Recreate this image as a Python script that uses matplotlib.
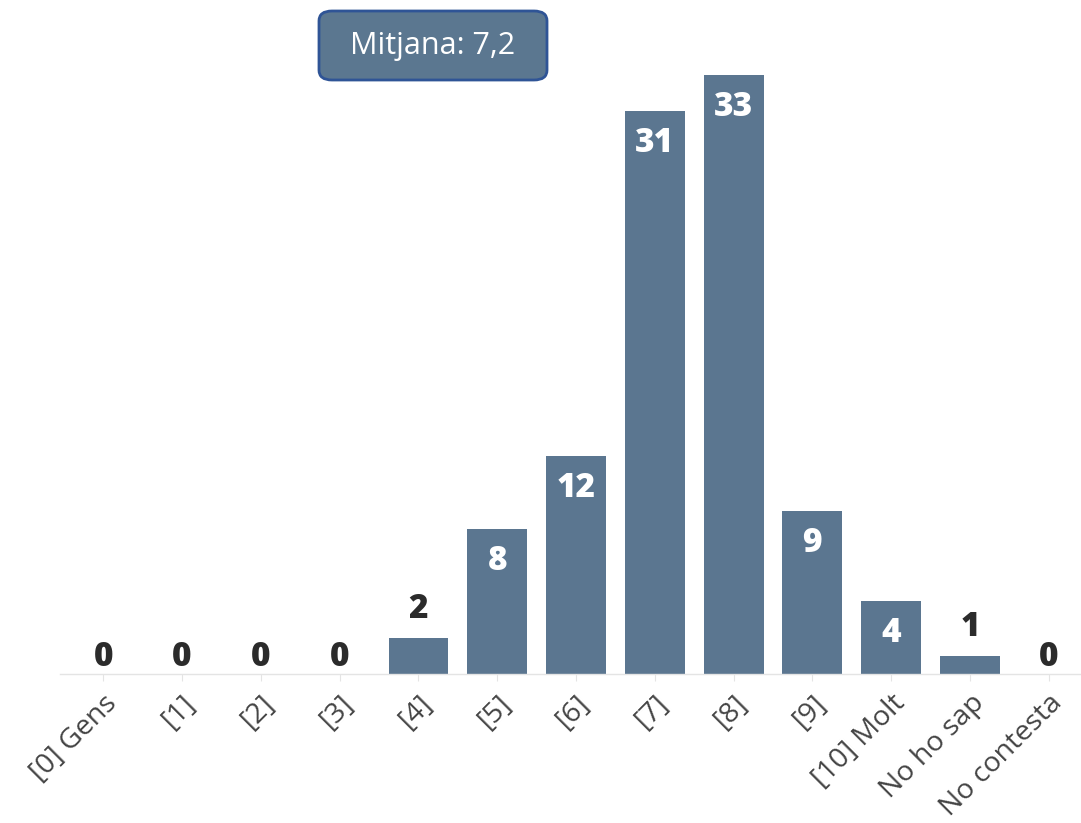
import matplotlib.pyplot as plt
from matplotlib.patches import FancyBboxPatch

categories = ["[0] Gens", "[1]", "[2]", "[3]", "[4]", "[5]", "[6]", "[7]", "[8]",
              "[9]", "[10] Molt", "No ho sap", "No contesta"]
values = [0, 0, 0, 0, 2, 8, 12, 31, 33, 9, 4, 1, 0]
mean_label = "Mitjana: 7,2"

bar_color = "#5b7690"

fig = plt.figure(figsize=(10.81, 8.23), dpi=100)
ax = fig.add_axes([60 / 1081, 149 / 823, 1021 / 1081, 674 / 823])

x = list(range(len(categories)))
ax.bar(x, values, width=0.76, color=bar_color, zorder=2)

ax.set_xlim(-0.55, 12.41)
ax.set_ylim(0, 37.13)
px = 37.13 / 674  # data units per pixel

lbl = dict(ha="center", va="center", fontsize=24, fontweight=800,
           family="Open Sans", zorder=3)
for i, v in enumerate(values):
    if v >= 4:
        ax.text(i, v - 32 * px, str(v), color="white", **lbl)
    elif v > 0:
        ax.text(i, v + 29 * px, str(v), color="#2b2b2b", **lbl)
    else:
        ax.text(i, 17 * px, str(v), color="#2b2b2b", **lbl)

for s in ["top", "right", "left"]:
    ax.spines[s].set_visible(False)
ax.spines["bottom"].set_color("#e4e4e4")
ax.spines["bottom"].set_linewidth(1.0)
ax.set_yticks([])
ax.set_xticks(x)
ax.set_xticklabels(categories, rotation=45, ha="right", rotation_mode="anchor",
                   fontsize=20.5, color="#444444", family="Open Sans")
ax.tick_params(axis="x", length=5, color="#e4e4e4", pad=6)

# mean box
box = FancyBboxPatch((319 / 1081, 1 - 80 / 823), 228 / 1081, 69 / 823,
                     boxstyle="round,pad=0,rounding_size=0.012",
                     transform=fig.transFigure, facecolor="#5b7790",
                     edgecolor="#2f5496", linewidth=2)
fig.patches.append(box)
fig.text(433 / 1081, 1 - 46 / 823, mean_label, ha="center", va="center",
         color="white", fontsize=22, family="Open Sans")

fig.savefig("out.png", dpi=100)
